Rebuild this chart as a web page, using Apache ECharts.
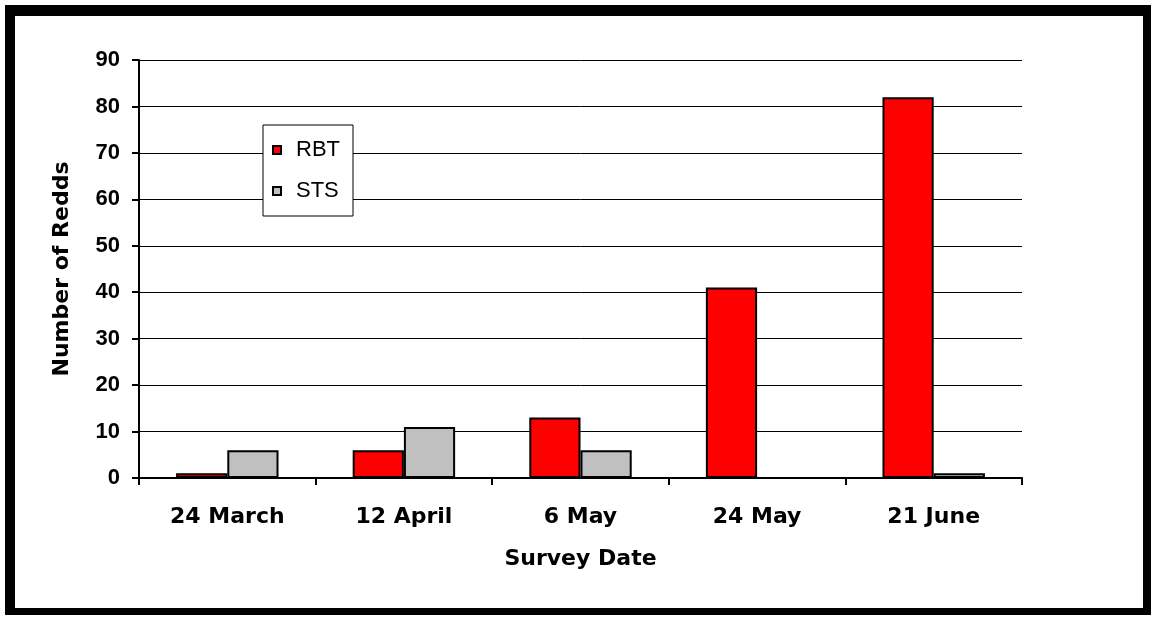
<!DOCTYPE html>
<html>
<head>
<meta charset="utf-8">
<script src="https://cdn.jsdelivr.net/npm/echarts@6/dist/echarts.min.js"></script>
<style>
  html, body { margin: 0; padding: 0; background: #fff; }
  #frame {
    position: absolute; left: 5px; top: 5px; width: 1128px; height: 592px;
    border-left: 10px solid #000; border-top: 11px solid #000;
    border-right: 8px solid #000; border-bottom: 7px solid #000;
  }
  #chart { position: absolute; left: 0; top: 0; width: 1151px; height: 619px; }
</style>
</head>
<body>
<div id="frame"></div>
<div id="chart"></div>
<script>
const categories = ['24 March', '12 April', '6 May', '24 May', '21 June'];
const rbt = [1, 6, 13, 41, 82];
const sts = [6, 11, 6, 0, 1];

const chart = echarts.init(document.getElementById('chart'));
const font = 'Liberation Sans, Arial, sans-serif';
const wide = 'DejaVu Sans, sans-serif';

const option = {
  animation: false,
  grid: { left: 139, right: 129, top: 60, bottom: 141 },
  legend: {
    orient: 'vertical',
    left: 263, top: 125,
    padding: [14, 13, 14, 9],
    itemGap: 19,
    itemWidth: 8, itemHeight: 8,
    icon: 'rect',
    backgroundColor: '#fff',
    borderColor: '#000', borderWidth: 1,
    textStyle: { fontFamily: font, fontSize: 22, color: '#000', padding: [0, 0, 0, 10] },
    data: ['RBT', 'STS']
  },
  xAxis: {
    type: 'category',
    data: categories,
    name: 'Survey Date',
    nameLocation: 'middle',
    nameGap: 70,
    nameTextStyle: { fontFamily: wide, fontSize: 22, fontWeight: 'bold', color: '#000' },
    axisLine: { lineStyle: { color: '#000', width: 2 } },
    axisTick: { show: true, length: 7, lineStyle: { color: '#000', width: 2 } },
    axisLabel: { fontFamily: wide, fontSize: 22, fontWeight: 'bold', color: '#000', margin: 28 }
  },
  yAxis: {
    type: 'value',
    min: 0, max: 90, interval: 10,
    name: 'Number of Redds',
    nameLocation: 'middle',
    nameGap: 66,
    nameTextStyle: { fontFamily: wide, fontSize: 22, fontWeight: 'bold', color: '#000' },
    axisLine: { show: true, lineStyle: { color: '#000', width: 2 } },
    axisTick: { show: true, length: 7, lineStyle: { color: '#000', width: 2 } },
    axisLabel: { fontFamily: font, fontSize: 22, fontWeight: 'bold', color: '#000', margin: 19 },
    splitLine: { lineStyle: { color: '#000', width: 1 } }
  },
  series: [
    {
      name: 'RBT', type: 'bar', data: rbt,
      barGap: '0%', barCategoryGap: '42%',
      itemStyle: { color: '#ff0000', borderColor: '#000', borderWidth: 2 }
    },
    {
      name: 'STS', type: 'bar', data: sts,
      itemStyle: { color: '#c0c0c0', borderColor: '#000', borderWidth: 2 }
    }
  ]
};
chart.setOption(option);
</script>
</body>
</html>
